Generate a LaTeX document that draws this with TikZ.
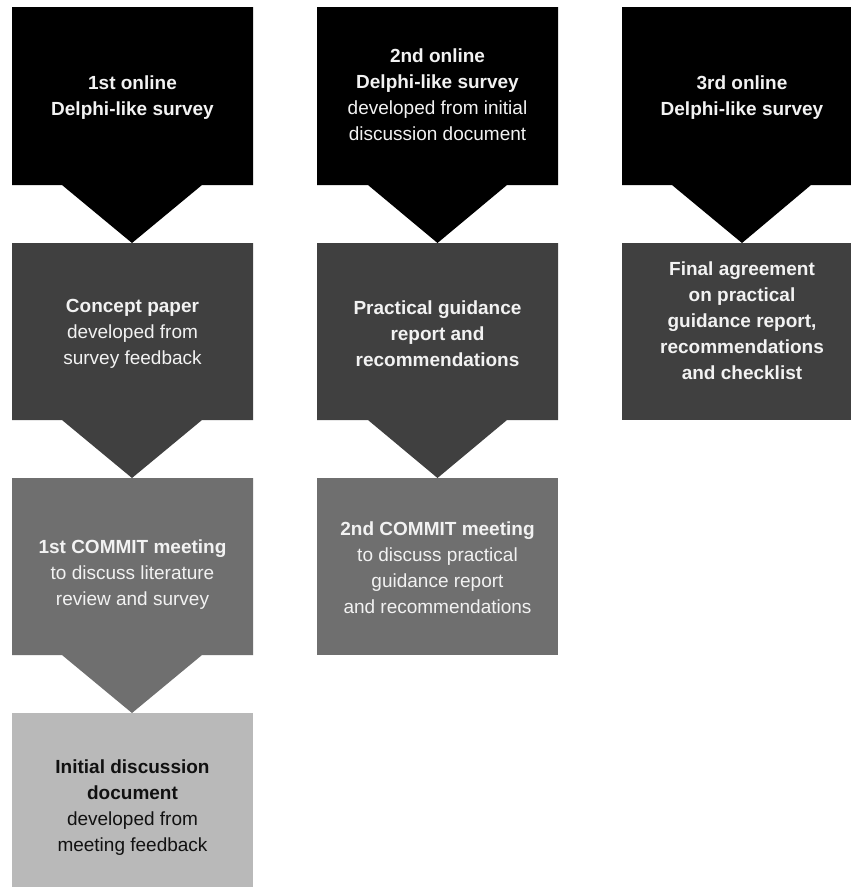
\documentclass[tikz,border=0pt]{standalone}
\usepackage{fontspec}
\setmainfont{Liberation Sans}
\definecolor{cA}{HTML}{000000}
\definecolor{cB}{HTML}{404040}
\definecolor{cC}{HTML}{6F6F6F}
\definecolor{cD}{HTML}{B9B9B9}
\definecolor{txtL}{HTML}{F2F2F2}
\definecolor{txtD}{HTML}{111111}
\tikzset{
  lbl/.style={align=center, font=\fontsize{19}{26}\selectfont, inner sep=0pt, text=txtL},
  lbldark/.style={lbl, text=txtD},
}
\begin{document}
\begin{tikzpicture}[x=1pt,y=-1pt]
\useasboundingbox (0,0) rectangle (851,887);
\fill[white] (0,0) rectangle (851,887);
% column 1
\fill[cA] (12,7) -- (253,7) -- (253,185) -- (202,185) -- (132,243) -- (62,185) -- (12,185) -- cycle;
\fill[cB] (12,243) -- (253,243) -- (253,420) -- (202,420) -- (132,478) -- (62,420) -- (12,420) -- cycle;
\fill[cC] (12,478) -- (253,478) -- (253,655) -- (202,655) -- (132,713) -- (62,655) -- (12,655) -- cycle;
\fill[cD] (12,713) rectangle (253,887);
% column 2
\fill[cA] (317,7) -- (558,7) -- (558,185) -- (507,185) -- (437.5,243) -- (368,185) -- (317,185) -- cycle;
\fill[cB] (317,243) -- (558,243) -- (558,420) -- (507,420) -- (437.5,478) -- (368,420) -- (317,420) -- cycle;
\fill[cC] (317,478) rectangle (558,655);
% column 3
\fill[cA] (622,7) -- (851,7) -- (851,185) -- (811,185) -- (742,243) -- (672,185) -- (622,185) -- cycle;
\fill[cB] (622,243) rectangle (851,420);
% labels
\node[lbl] (a1) at (132.5,98) {\textbf{1st online}\\\textbf{Delphi-like survey}};
\node[lbl] (a2) at (132.5,334) {\textbf{Concept paper}\\developed from\\survey feedback};
\node[lbl] (a3) at (132.5,575) {\textbf{1st COMMIT meeting}\\to discuss literature\\review and survey};
\node[lbldark] (a4) at (132.5,808) {\textbf{Initial discussion}\\\textbf{document}\\developed from\\meeting feedback};
\node[lbl] (b1) at (437.5,95) {\textbf{2nd online}\\\textbf{Delphi-like survey}\\developed from initial\\discussion document};
\node[lbl] (b2) at (437.5,334) {\textbf{Practical guidance}\\\textbf{report and}\\\textbf{recommendations}};
\node[lbl] (b3) at (437.5,568) {\textbf{2nd COMMIT meeting}\\to discuss practical\\guidance report\\and recommendations};
\node[lbl] (c1) at (742,98) {\textbf{3rd online}\\\textbf{Delphi-like survey}};
\node[lbl] (c2) at (742,321) {\textbf{Final agreement}\\\textbf{on practical}\\\textbf{guidance report,}\\\textbf{recommendations}\\\textbf{and checklist}};
\end{tikzpicture}
\end{document}
